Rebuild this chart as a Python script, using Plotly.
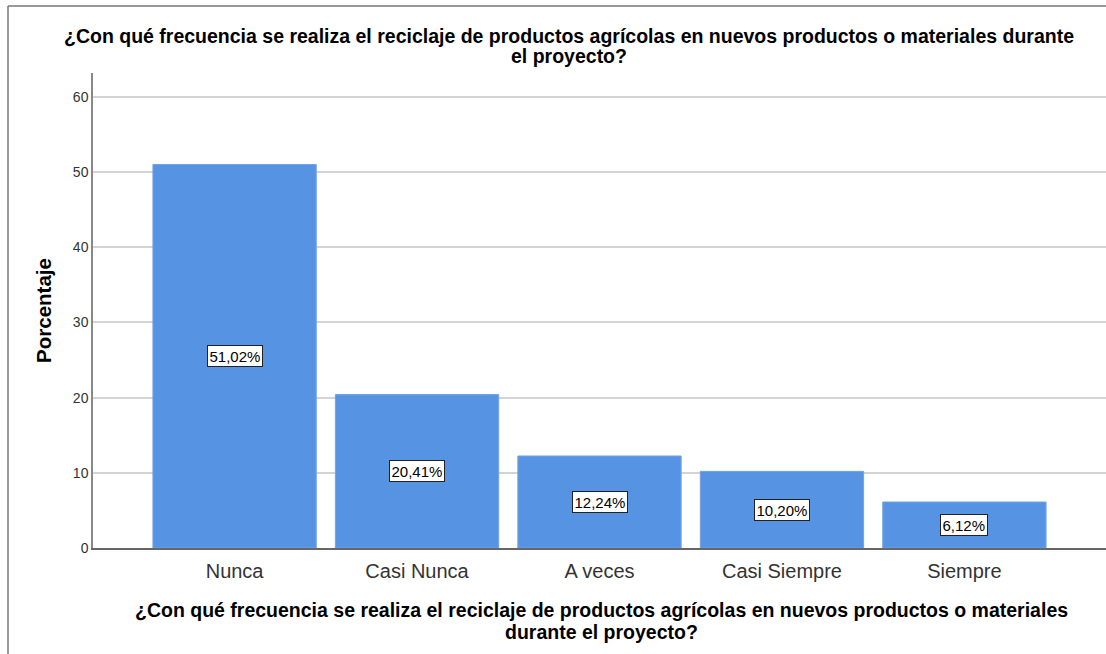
import plotly.graph_objects as go

categories = ["Nunca", "Casi Nunca", "A veces", "Casi Siempre", "Siempre"]
values = [51.02, 20.41, 12.24, 10.20, 6.12]
labels = ["51,02%", "20,41%", "12,24%", "10,20%", "6,12%"]
y_ticks = [0, 10, 20, 30, 40, 50, 60]
title_lines = ["¿Con qué frecuencia se realiza el reciclaje de productos agrícolas en nuevos productos o materiales durante",
               "el proyecto?"]
xtitle_lines = ["¿Con qué frecuencia se realiza el reciclaje de productos agrícolas en nuevos productos o materiales",
                "durante el proyecto?"]

W, H = 1106, 654
ml, mr, mt, mb = 93, 0, 73, 106
pw, ph = W - ml - mr, H - mt - mb
font = "Liberation Sans, Arial, sans-serif"


def px_x(x):
    return (x - ml) / pw


def px_y(y):
    return (H - mb - y) / ph


fig = go.Figure()
fig.add_trace(go.Bar(
    x=list(range(len(categories))), y=values,
    marker=dict(color="#5694e3", line=dict(color="#6fa3e6", width=1)),
    width=0.895, hoverinfo="skip",
))

for i, (v, lab) in enumerate(zip(values, labels)):
    fig.add_annotation(x=i, y=v / 2, text=lab, showarrow=False,
                       font=dict(family=font, size=15, color="black"),
                       bgcolor="white", bordercolor="#222", borderwidth=1, borderpad=1.5)

fig.update_layout(
    width=W, height=H,
    margin=dict(l=ml, r=mr, t=mt, b=mb),
    paper_bgcolor="white", plot_bgcolor="white",
    showlegend=False,
    bargap=0.1,
    xaxis=dict(
        range=[-0.776, 4.776],
        tickmode="array", tickvals=list(range(len(categories))), ticktext=categories,
        tickfont=dict(family=font, size=20, color="#333"),
        showline=True, linecolor="#666", linewidth=1.5,
        ticks="", showgrid=False, zeroline=False, fixedrange=True,
        ticklabelstandoff=4,
    ),
    yaxis=dict(
        range=[0, (548 - 73) / 7.517],
        tickmode="array", tickvals=y_ticks,
        tickfont=dict(family=font, size=14, color="#333"),
        showline=True, linecolor="#888", linewidth=1.5,
        showgrid=True, gridcolor="#d4d4d4", gridwidth=1.5,
        ticks="", ticklen=0, zeroline=False,
        title=dict(text="<b>Porcentaje</b>", font=dict(family=font, size=20.5, color="black"), standoff=16),
    ),
)

# chart title (two lines, tight spacing)
for txt, cx, cy in [(title_lines[0], 569, 36), (title_lines[1], 569, 56)]:
    fig.add_annotation(text="<b>" + txt + "</b>", xref="paper", yref="paper",
                       x=px_x(cx), y=px_y(cy), xanchor="center", yanchor="middle",
                       showarrow=False, font=dict(family=font, size=19.5, color="black"))

# x-axis title (two lines)
for txt, cx, cy in [(xtitle_lines[0], 601, 610), (xtitle_lines[1], 601, 632)]:
    fig.add_annotation(text="<b>" + txt + "</b>", xref="paper", yref="paper",
                       x=px_x(cx), y=px_y(cy), xanchor="center", yanchor="middle",
                       showarrow=False, font=dict(family=font, size=19.5, color="black"))

# outer border (left and top)
fig.add_shape(type="line", xref="paper", yref="paper",
              x0=px_x(8), x1=px_x(8), y0=px_y(6), y1=px_y(660),
              line=dict(color="#777", width=1.5))
fig.add_shape(type="line", xref="paper", yref="paper",
              x0=px_x(8), x1=px_x(1110), y0=px_y(6), y1=px_y(6),
              line=dict(color="#777", width=1.5))

fig.write_html("out.html")
